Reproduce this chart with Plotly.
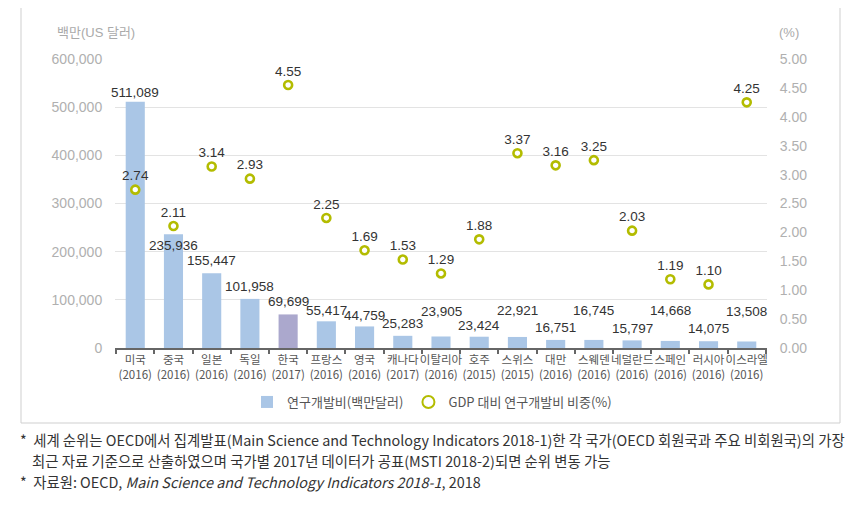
import plotly.graph_objects as go

# ---- data ----
countries = ["미국", "중국", "일본", "독일", "한국", "프랑스", "영국", "캐나다", "이탈리아",
             "호주", "스위스", "대만", "스웨덴", "네덜란드", "스페인", "러시아", "이스라엘"]
years = ["2016", "2016", "2016", "2016", "2017", "2016", "2016", "2017", "2016",
         "2015", "2015", "2016", "2016", "2016", "2016", "2016", "2016"]
rd_spend = [511089, 235936, 155447, 101958, 69699, 55417, 44759, 25283, 23905,
            23424, 22921, 16751, 16745, 15797, 14668, 14075, 13508]
gdp_ratio = [2.74, 2.11, 3.14, 2.93, 4.55, 2.25, 1.69, 1.53, 1.29,
             1.88, 3.37, 3.16, 3.25, 2.03, 1.19, 1.10, 4.25]
left_ticks = [0, 100000, 200000, 300000, 400000, 500000, 600000]
right_ticks = [0, 0.5, 1, 1.5, 2, 2.5, 3, 3.5, 4, 4.5, 5]

# ---- styles ----
NUM_FONT = "Liberation Sans, Noto Sans CJK KR, sans-serif"
KR_FONT = "Noto Sans CJK KR, sans-serif"
bar_label_shift = [9, -11, 13, 12, 13, 11, 11, 12, 25, 11, 26, 12, 29, 12, 30, 13, 30]
bar_colors = ["#aac6e6"] * len(countries)
bar_colors[countries.index("한국")] = "#aba8cd"
DOT = "#b3bc00"

cats = [f"{c}<br>({y})" for c, y in zip(countries, years)]

fig = go.Figure()
fig.add_trace(go.Bar(
    x=cats, y=rd_spend, name="연구개발비(백만달러)",
    marker=dict(color=bar_colors, line=dict(width=0)),
    width=0.5, yaxis="y",
))
fig.add_trace(go.Scatter(
    x=cats, y=gdp_ratio, name="GDP 대비 연구개발비 비중(%)",
    mode="markers+text", yaxis="y2",
    marker=dict(symbol="circle", size=8, color="white", line=dict(color=DOT, width=2.6)),
    text=[f"{v:.2f}" for v in gdp_ratio], textposition="top center",
    textfont=dict(family=NUM_FONT, size=13.5, color="#333"),
    cliponaxis=False,
))

for c, v, s in zip(cats, rd_spend, bar_label_shift):
    fig.add_annotation(x=c, y=v, xref="x", yref="y", text=f"{v:,}", showarrow=False,
                       yshift=s, yanchor="middle",
                       font=dict(family=NUM_FONT, size=13.5, color="#333"))

# plot area in page px: x 115..767, y 59..348 ; page has an 8px body margin
OFF = 8
L, R, T, B = 115, 767, 59, 348
def px(x):
    return (x - L) / (R - L)
def py(y):
    return (B - y) / (B - T)

fig.add_shape(type="rect", xref="paper", yref="paper",
              x0=px(21), x1=px(840), y0=py(423), y1=py(5),
              line=dict(color="#cfcfcf", width=1), fillcolor="rgba(0,0,0,0)", layer="below")

fig.add_annotation(xref="paper", yref="paper", x=px(55), y=py(33), xanchor="left", yanchor="middle",
                   text="백만(US 달러)", showarrow=False,
                   font=dict(family=NUM_FONT, size=13, color="#aaaaaa"))
fig.add_annotation(xref="paper", yref="paper", x=px(777), y=py(33), xanchor="left", yanchor="middle",
                   text="(%)", showarrow=False,
                   font=dict(family=NUM_FONT, size=13, color="#aaaaaa"))

notes = [
    (18, 439, "*  세계 순위는 OECD에서 집계발표(Main Science and Technology Indicators 2018-1)한 각 국가(OECD 회원국과 주요 비회원국)의 가장"),
    (30, 460, "최근 자료 기준으로 산출하였으며 국가별 2017년 데이터가 공표(MSTI 2018-2)되면 순위 변동 가능"),
    (18, 481, "*  자료원: OECD, <i>Main Science and Technology Indicators 2018-1</i>, 2018"),
]
for x0, y0, t in notes:
    fig.add_annotation(xref="paper", yref="paper", x=px(x0), y=py(y0), xanchor="left", yanchor="middle",
                       text=t, showarrow=False, font=dict(family=KR_FONT, size=14.4, color="#333"))

fig.update_layout(
    width=857, height=507,
    margin=dict(l=L - OFF, r=857 - (R - OFF), t=T - OFF, b=507 - (B - OFF), pad=0, autoexpand=False),
    paper_bgcolor="white", plot_bgcolor="white",
    showlegend=True,
    legend=dict(orientation="h", x=px(432), xanchor="center", y=py(402), yanchor="middle",
                font=dict(family=KR_FONT, size=13, color="#555"), itemsizing="constant",
                bgcolor="rgba(0,0,0,0)", traceorder="normal"),
    xaxis=dict(type="category", range=[-0.53, len(cats) - 0.47], automargin=False,
               showline=True, linecolor="#666", linewidth=1.5, tickangle=0,
               ticks="outside", tickson="boundaries", ticklen=4, tickcolor="#666", tickwidth=1.5,
               tickfont=dict(family=KR_FONT, size=11.5, color="#555"),
               showgrid=False, zeroline=False),
    yaxis=dict(range=[0, 600000], tickvals=left_ticks, tickformat=",", automargin=False,
               showgrid=True, gridcolor="#e3e3e3", gridwidth=1.2, zeroline=False,
               ticks="outside", ticklen=9, tickcolor="rgba(0,0,0,0)",
               tickfont=dict(family=NUM_FONT, size=14, color="#b0b0b0")),
    yaxis2=dict(range=[0, 5], tickvals=right_ticks, tickformat=".2f", automargin=False,
                overlaying="y", side="right", showgrid=False, zeroline=False,
                ticks="outside", ticklen=9, tickcolor="rgba(0,0,0,0)",
                tickfont=dict(family=NUM_FONT, size=14, color="#b0b0b0")),
    bargap=0.5,
)

fig.write_html("out.html")
